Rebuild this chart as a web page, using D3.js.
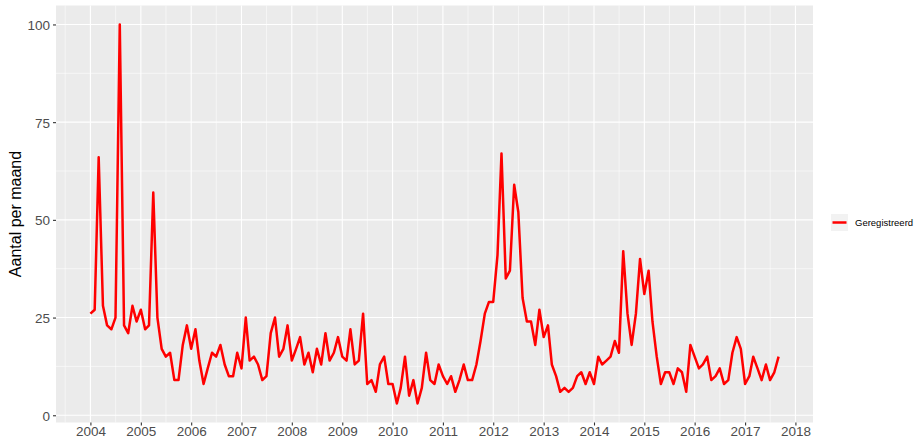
<!DOCTYPE html>
<html>
<head>
<meta charset="utf-8">
<script src="https://cdn.jsdelivr.net/npm/d3@7"></script>
<style>
  body { margin: 0; background: #fff; }
  svg { display: block; font-family: "Liberation Sans", Arial, sans-serif; }
</style>
</head>
<body>
<svg id="chart" width="916" height="439"></svg>
<script>
// monthly counts, Jan 2004 .. Sep 2017
const startMonth = [2004, 0];
const counts = [
  26, 27, 66, 28, 23, 22, 25, 100, 23, 21, 28, 24,
  27, 22, 23, 57, 25, 17, 15, 16, 9, 9, 18, 23,
  17, 22, 14, 8, 12, 16, 15, 18, 13, 10, 10, 16,
  12, 25, 14, 15, 13, 9, 10, 21, 25, 15, 17, 23,
  14, 17, 20, 13, 16, 11, 17, 13, 21, 14, 16, 20,
  15, 14, 22, 13, 14, 26, 8, 9, 6, 13, 15, 8,
  8, 3, 7, 15, 5, 9, 3, 7, 16, 9, 8, 13,
  10, 8, 10, 6, 9, 13, 9, 9, 13, 19, 26, 29,
  29, 41, 67, 35, 37, 59, 52, 30, 24, 24, 18, 27,
  20, 23, 13, 10, 6, 7, 6, 7, 10, 11, 8, 11,
  8, 15, 13, 14, 15, 19, 16, 42, 26, 18, 26, 40,
  31, 37, 24, 15, 8, 11, 11, 8, 12, 11, 6, 18,
  15, 12, 13, 15, 9, 10, 12, 8, 9, 16, 20, 17,
  8, 10, 15, 12, 9, 13, 9, 11, 15
];
const yTicks = [0, 25, 50, 75, 100];
const yMinor = [12.5, 37.5, 62.5, 87.5];
const xYears = d3.range(2004, 2019);
const seriesName = ['Geregistreerd'];

const data = counts.map((v, i) => ({
  date: new Date(Date.UTC(startMonth[0], startMonth[1] + i, 1)),
  value: v,
}));

const svg = d3.select('#chart');
const panel = { left: 56, right: 813, top: 5.5, bottom: 422.5 };

const xExt = d3.extent(data, (d) => d.date.getTime());
const xPad = (xExt[1] - xExt[0]) * 0.05;
const x = d3.scaleUtc()
  .domain([new Date(xExt[0] - xPad), new Date(xExt[1] + xPad)])
  .range([panel.left, panel.right]);

const yExt = d3.extent(data, (d) => d.value);
const yPad = (yExt[1] - yExt[0]) * 0.05;
const y = d3.scaleLinear()
  .domain([yExt[0] - yPad, yExt[1] + yPad])
  .range([panel.bottom, panel.top]);

// panel
svg.append('rect')
  .attr('x', panel.left).attr('y', panel.top)
  .attr('width', panel.right - panel.left)
  .attr('height', panel.bottom - panel.top)
  .attr('fill', '#ebebeb');

const yearDates = xYears.map((yr) => new Date(Date.UTC(yr, 0, 1)));
const halfDates = d3.range(2003, 2019).map((yr) => new Date(Date.UTC(yr, 6, 2)))
  .filter((d) => d >= x.domain()[0] && d <= x.domain()[1]);

const grid = svg.append('g');
grid.selectAll('.ymin').data(yMinor).join('line')
  .attr('x1', panel.left).attr('x2', panel.right)
  .attr('y1', (d) => y(d)).attr('y2', (d) => y(d))
  .attr('stroke', '#fff').attr('stroke-width', 0.55);
grid.selectAll('.xmin').data(halfDates).join('line')
  .attr('y1', panel.top).attr('y2', panel.bottom)
  .attr('x1', (d) => x(d)).attr('x2', (d) => x(d))
  .attr('stroke', '#fff').attr('stroke-width', 0.55);
grid.selectAll('.ymaj').data(yTicks).join('line')
  .attr('x1', panel.left).attr('x2', panel.right)
  .attr('y1', (d) => y(d)).attr('y2', (d) => y(d))
  .attr('stroke', '#fff').attr('stroke-width', 1.1);
grid.selectAll('.xmaj').data(yearDates).join('line')
  .attr('y1', panel.top).attr('y2', panel.bottom)
  .attr('x1', (d) => x(d)).attr('x2', (d) => x(d))
  .attr('stroke', '#fff').attr('stroke-width', 1.1);

// line
svg.append('path')
  .datum(data)
  .attr('fill', 'none')
  .attr('stroke', '#ff0000')
  .attr('stroke-width', 2.5)
  .attr('stroke-linejoin', 'round')
  .attr('d', d3.line().x((d) => x(d.date)).y((d) => y(d.value)));

// axes
const xAxis = svg.append('g')
  .attr('transform', `translate(0,${panel.bottom})`)
  .call(d3.axisBottom(x).tickValues(yearDates).tickFormat(d3.utcFormat('%Y')).tickSize(3).tickPadding(1));
const yAxis = svg.append('g')
  .attr('transform', `translate(${panel.left},0)`)
  .call(d3.axisLeft(y).tickValues(yTicks).tickSize(3).tickPadding(3));

[xAxis, yAxis].forEach((g) => {
  g.select('.domain').remove();
  g.selectAll('.tick line').attr('stroke', '#333').attr('stroke-width', 1.1);
  g.selectAll('.tick text')
    .attr('fill', '#4d4d4d')
    .style('font-size', '13.5px')
    .style('font-family', '"Liberation Sans", Arial, sans-serif');
});
xAxis.selectAll('.tick text').attr('dy', '0.71em');
yAxis.selectAll('.tick text').attr('dy', '0.36em');

svg.append('text')
  .attr('transform', `translate(21,${(panel.top + panel.bottom) / 2}) rotate(-90)`)
  .attr('text-anchor', 'middle')
  .style('font-size', '16px')
  .attr('fill', '#000')
  .text('Aantal per maand');

// legend
const legend = svg.append('g').attr('transform', 'translate(831,214)');
legend.selectAll('rect').data(seriesName).join('rect')
  .attr('width', 17).attr('height', 17).attr('fill', '#f2f2f2');
legend.selectAll('line').data(seriesName).join('line')
  .attr('x1', 1.5).attr('x2', 15.5).attr('y1', 8.5).attr('y2', 8.5)
  .attr('stroke', '#ff0000').attr('stroke-width', 2.5);
legend.selectAll('text').data(seriesName).join('text')
  .attr('x', 24).attr('y', 8.5).attr('dy', '0.35em')
  .style('font-size', '9.5px')
  .attr('fill', '#000')
  .text((d) => d);
</script>
</body>
</html>
